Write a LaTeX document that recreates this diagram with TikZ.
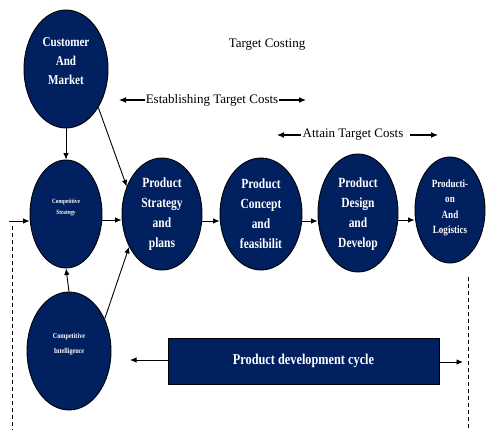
\documentclass[tikz,border=0pt]{standalone}
\usepackage{fontspec}
\setmainfont{Liberation Serif}
\newfontfamily\lblfont{Liberation Serif}[FakeStretch=0.82]
\usetikzlibrary{shapes.geometric,arrows.meta}
\definecolor{navy}{RGB}{0,32,96}
\begin{document}
\begin{tikzpicture}[x=1pt,y=-1pt,
  stage/.style={ellipse,draw=black,line width=0.9pt,fill=navy,text=white,
    inner sep=0pt,align=center,font=\lblfont\bfseries},
  flow/.style={-{Latex[length=6.5pt,width=5.5pt]},line width=0.9pt},
  hflow/.style={-{Latex[length=7pt,width=6pt]},line width=1.2pt},
  lbl/.style={font=\fontsize{13}{15}\selectfont,inner sep=1pt},
  guide/.style={line width=0.7pt,dash pattern=on 4pt off 3pt}]
\useasboundingbox (0,0) rectangle (494,430);

% stages
\node[stage,minimum width=84pt,minimum height=118pt,font=\lblfont\bfseries\fontsize{13.5}{19}\selectfont]
  (cm) at (66,69) {Customer\\And\\Market\\[-3pt]\mbox{}};
\node[stage,minimum width=72pt,minimum height=108pt,font=\lblfont\bfseries\fontsize{6.5}{11}\selectfont]
  (cs) at (66,214) {Competitive\\Strategy\\[4pt]};
\node[stage,minimum width=84pt,minimum height=118pt,font=\lblfont\bfseries\fontsize{7.5}{15}\selectfont]
  (ci) at (69,351) {Competitive\\Intelligence\\[1pt]\mbox{}};
\node[stage,minimum width=80pt,minimum height=112pt,font=\lblfont\bfseries\fontsize{14}{20}\selectfont]
  (ps) at (162,214) {Product\\Strategy\\and\\plans};
\node[stage,minimum width=82pt,minimum height=112pt,font=\lblfont\bfseries\fontsize{14}{20}\selectfont]
  (pc) at (261,214) {Product\\Concept\\and\\feasibilit};
\node[stage,minimum width=80pt,minimum height=118pt,font=\lblfont\bfseries\fontsize{14}{20}\selectfont]
  (pd) at (358,213) {\raisebox{-4pt}{\begin{tabular}{@{}c@{}}Product\\Design\\and\\Develop\end{tabular}}};
\node[stage,minimum width=70pt,minimum height=106pt,font=\lblfont\bfseries\fontsize{11}{15.5}\selectfont]
  (pl) at (450,210) {Producti-\\on\\And\\Logistics\\[-8.5pt]\mbox{}};

% development cycle bar
\node[draw=black,line width=0.9pt,fill=navy,text=white,minimum width=271pt,minimum height=46pt,
  inner sep=0pt,font=\lblfont\bfseries\fontsize{15}{17}\selectfont] (cyc) at (303.5,361)
  {\raisebox{4pt}{Product development cycle}};

% headings
\node[lbl] (tc) at (267,45) {Target Costing};
\node[lbl] (est) at (212,100) {Establishing Target Costs};
\node[lbl] (att) at (353,135) {Attain Target Costs};

% heading arrows
\coordinate (estL) at (119,100);
\coordinate (estR) at (306,100);
\coordinate (attL) at (277,135);
\coordinate (attS) at (410,135);
\coordinate (attR) at (438,135);
\draw[hflow] (est.west) -- (estL);
\draw[hflow] (est.east) -- (estR);
\draw[hflow] (att.west) -- (attL);
\draw[hflow] (attS) -- (attR);

% connectors between stages
\draw[flow] (cm.south) -- (cs.north);
\draw[flow] (ci.north) -- (cs.south);
\draw[flow] (cm.-50) -- (ps.142);
\draw[flow] (ci.42) -- (ps.-135);
\draw[flow] (cs.east |- 0,220) -- (ps.west |- 0,220);
\draw[flow] (ps.east |- 0,221) -- (pc.west |- 0,221);
\draw[flow] (pc.east |- 0,221) -- (pd.west |- 0,221);
\draw[flow] (pd.east |- 0,220) -- (pl.west |- 0,220);

% cycle feedback
\coordinate (ciR) at (130,360);
\coordinate (cycR) at (463,362);
\draw[flow] (cyc.west |- 0,360) -- (ciR);
\draw[flow] (cyc.east |- 0,362) -- (cycR);

% dashed guides
\coordinate (lTop) at (9,221);
\coordinate (lDash) at (12,226);
\coordinate (lBot) at (12,430);
\coordinate (rTop) at (468,277);
\coordinate (rBot) at (468,430);
\draw[flow] (lTop) -- (cs.west |- 0,221);
\draw[guide] (lDash) -- (lBot);
\draw[guide] (rTop) -- (rBot);
\end{tikzpicture}
\end{document}
